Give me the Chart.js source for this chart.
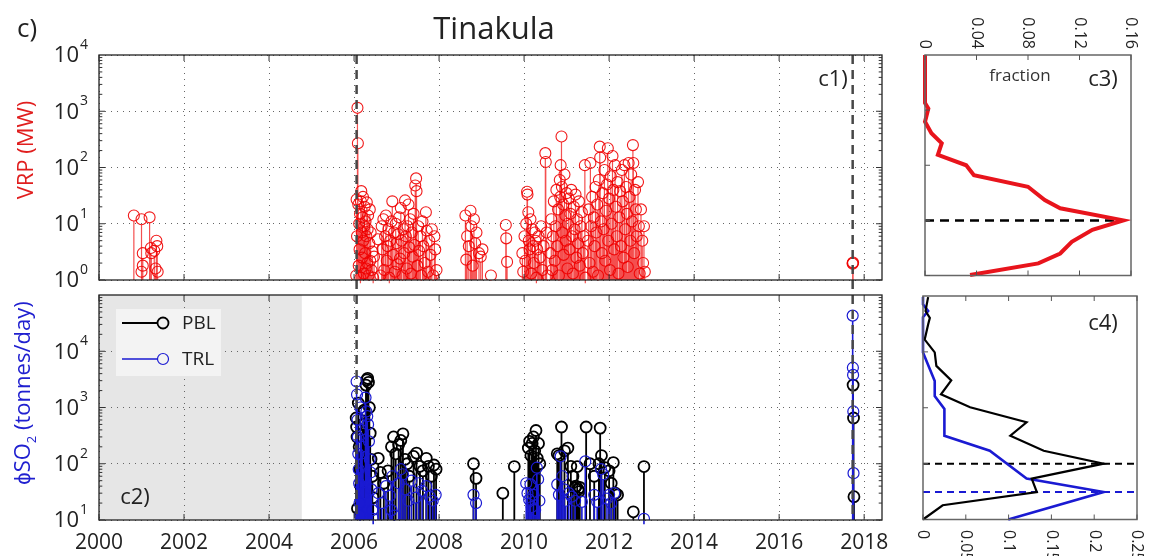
<!DOCTYPE html>
<html>
<head>
<meta charset="utf-8">
<title>Tinakula</title>
<script src="https://cdn.jsdelivr.net/npm/chart.js@4.4.0/dist/chart.umd.min.js"></script>
<style>
  body { margin: 0; background: #fff; width: 1151px; height: 556px; position: relative; overflow: hidden;
         font-family: "Open Sans", sans-serif; }
  canvas { position: absolute; }
  .lbl { position: absolute; white-space: nowrap; color: #222; transform: translate(-50%, -50%); line-height: 1; }
  .rot { transform: translate(-50%, -50%) rotate(-90deg); }
</style>
</head>
<body>
<canvas id="c1" style="left:0;top:0" width="900" height="295"></canvas>
<canvas id="c2" style="left:0;top:285px" width="900" height="271"></canvas>
<canvas id="c3" style="left:880px;top:0" width="271" height="290"></canvas>
<canvas id="c4" style="left:880px;top:285px" width="271" height="271"></canvas>

<div class="lbl" style="left:27px;top:27px;font-size:26px">c)</div>
<div class="lbl" style="left:494px;top:27px;font-size:31px">Tinakula</div>
<div class="lbl" style="left:833px;top:77px;font-size:22px">c1)</div>
<div class="lbl" style="left:135px;top:495px;font-size:22px">c2)</div>
<div class="lbl" style="left:1103px;top:77px;font-size:22px">c3)</div>
<div class="lbl" style="left:1103px;top:321px;font-size:22px">c4)</div>
<div class="lbl" style="left:1020px;top:74px;font-size:17px;color:#333">fraction</div>
<div class="lbl rot" style="left:24px;top:150px;font-size:22px;color:#e01e1e">VRP (MW)</div>
<div class="lbl rot" style="left:24px;top:393px;font-size:22px;color:#2020d0">&#981;SO<sub style="font-size:13px">2</sub> (tonnes/day)</div>

<script>
// ---- data ----
const xTickYears = [2000, 2002, 2004, 2006, 2008, 2010, 2012, 2014, 2016, 2018];
const vrpTicks = [1, 10, 100, 1000, 10000];
const so2Ticks = [10, 100, 1000, 10000];
const eventDates = [2006.06, 2017.73];   // dashed vertical lines
const omiStart = 2004.77;                 // grey = no SO2 record before this

const vrpDates = [
  2000.82, 2001.00, 2001.03, 2001.03, 2001.00, 2001.19, 2001.22, 2001.23, 2001.30, 2001.35, 2001.37, 2001.33, 2001.38,
  2006.05, 2006.06, 2006.08, 2006.09, 2006.07, 2006.10, 2006.11, 2006.12, 2006.13, 2006.14,
  2006.15, 2006.16, 2006.17, 2006.18, 2006.19, 2006.20, 2006.21, 2006.22, 2006.23, 2006.24,
  2006.25, 2006.26, 2006.27, 2006.28, 2006.29, 2006.30, 2006.31, 2006.32, 2006.33, 2006.34,
  2006.36, 2006.37, 2006.38, 2006.39, 2006.41, 2006.43, 2006.45, 2006.47, 2006.56,
  2006.62, 2006.65, 2006.67, 2006.69, 2006.71, 2006.73, 2006.75, 2006.77, 2006.79, 2006.81,
  2006.83, 2006.85, 2006.88, 2006.90, 2006.92, 2006.94, 2006.96, 2006.98, 2007.00, 2007.02,
  2007.04, 2007.06, 2007.08, 2007.10, 2007.12, 2007.14, 2007.16, 2007.18, 2007.20, 2007.22,
  2007.24, 2007.26, 2007.28, 2007.30, 2007.32, 2007.34, 2007.36, 2007.38, 2007.40, 2007.42,
  2007.44, 2007.46, 2007.47, 2007.49, 2007.51, 2007.53, 2007.56, 2007.58, 2007.61, 2007.63,
  2007.66, 2007.69, 2007.71, 2007.74, 2007.77, 2007.80, 2007.83, 2007.86, 2007.89, 2007.91,
  2007.94,
  2008.62, 2008.64, 2008.66, 2008.70, 2008.74, 2008.76, 2008.79, 2008.82, 2008.85, 2008.88,
  2008.94, 2008.98, 2009.02, 2009.22, 2009.57, 2009.58, 2009.60,
  2009.96, 2009.98, 2010.01, 2010.03, 2010.05, 2010.07, 2010.08, 2010.10, 2010.11, 2010.13,
  2010.15, 2010.17, 2010.19, 2010.21, 2010.23, 2010.25, 2010.27, 2010.29, 2010.31, 2010.34,
  2010.37, 2010.40, 2010.43, 2010.46, 2010.50, 2010.51, 2010.53, 2010.55,
  2010.62, 2010.64, 2010.66, 2010.68, 2010.70, 2010.72, 2010.74, 2010.76, 2010.78, 2010.80,
  2010.82, 2010.84, 2010.85, 2010.86, 2010.88, 2010.89, 2010.90, 2010.92, 2010.93, 2010.95,
  2010.97, 2010.98, 2011.00, 2011.02, 2011.03, 2011.05, 2011.07, 2011.09, 2011.11, 2011.13,
  2011.15, 2011.17, 2011.19, 2011.21, 2011.23, 2011.25, 2011.27, 2011.29, 2011.31, 2011.33,
  2011.36, 2011.38, 2011.40, 2011.43, 2011.44,
  2011.50, 2011.52, 2011.54, 2011.56, 2011.58, 2011.60, 2011.62, 2011.64, 2011.66, 2011.68,
  2011.70, 2011.72, 2011.74, 2011.76, 2011.78, 2011.79, 2011.81, 2011.83, 2011.85, 2011.87,
  2011.89, 2011.91, 2011.93, 2011.95, 2011.97, 2011.98, 2012.00, 2012.02, 2012.04, 2012.06,
  2012.08, 2012.10, 2012.12, 2012.14, 2012.16, 2012.18, 2012.20, 2012.22, 2012.24, 2012.26,
  2012.28, 2012.30, 2012.32, 2012.34, 2012.36, 2012.38, 2012.40, 2012.42, 2012.44, 2012.46,
  2012.48, 2012.50, 2012.52, 2012.54, 2012.56, 2012.57, 2012.59, 2012.61, 2012.63, 2012.65,
  2012.68, 2012.70, 2012.72, 2012.75, 2012.78, 2012.80, 2012.82, 2012.84,
  2017.73, 2017.73, 2017.74
];
const vrpValues = [
  14, 12, 3, 1.8, 1.4, 13, 3.7, 3, 3.3, 5, 4, 1.6, 1.4,
  1.2, 27, 1150, 270, 6, 22, 1.8, 10, 3.5, 15,
  1.1, 25, 38, 7, 2.5, 13, 30, 5, 1.3, 9,
  20, 3, 11, 1.6, 6, 24, 2, 8, 14, 1.2,
  4.5, 18, 2.2, 7, 1.5, 3.2, 1.1, 2.6, 5.3,
  1.2, 9, 3.5, 12, 1.5, 6, 14, 2.2, 4, 8,
  1.1, 5, 11, 25, 2.8, 7, 1.4, 10, 4.5, 1.9,
  6.5, 13, 2.4, 19, 5, 1.2, 8, 3, 26, 6,
  1.6, 9, 22, 3.8, 12, 1.3, 7, 2.6, 15, 4.2,
  48, 64, 38, 1.8, 9, 3.3, 6, 1.2, 11, 4,
  2, 16, 7.5, 1.4, 5, 2.8, 8, 1.2, 6, 3.5,
  1.5,
  14, 2.3, 6, 4, 17, 9, 1.8, 12, 4.5, 7,
  3, 2.6, 3.5, 1.2, 9.5, 5.5, 2.1,
  3, 1.4, 6, 2.2, 10, 37, 33, 16, 5, 3.5,
  12, 1.3, 8, 4, 2, 7, 5, 1.1, 3.5, 6,
  2.5, 9, 1.5, 4, 180, 125, 7, 1.2,
  3, 12, 1.5, 6, 25, 2.2, 9, 40, 4, 18,
  1.2, 60, 30, 110, 355, 45, 7, 22, 2.8, 75,
  14, 5, 35, 1.6, 10, 28, 3.5, 15, 40, 6,
  1.3, 20, 8, 33, 2.5, 12, 4.5, 25, 1.8, 9,
  16, 3, 6, 110, 1.1,
  5, 18, 2, 120, 9, 30, 1.4, 13, 4, 45,
  7, 22, 1.2, 60, 235, 150, 11, 3, 35, 8,
  90, 2.2, 17, 50, 220, 5, 28, 1.5, 70, 10,
  160, 40, 3.5, 110, 20, 6, 55, 1.3, 13, 38,
  4, 90, 25, 2.5, 110, 8, 45, 15, 1.7, 120,
  30, 5, 75, 11, 250, 120, 3, 40, 18, 6,
  55, 9, 1.3, 18, 5, 2, 9, 1.4,
  1.95, 2.0, 2.05
];

const pblDates = [
  2006.05, 2006.06, 2006.07, 2006.08, 2006.10, 2006.12, 2006.14, 2006.16, 2006.20, 2006.24,
  2006.28, 2006.30, 2006.32, 2006.34, 2006.36, 2006.38, 2006.40, 2006.43, 2006.45,
  2006.57, 2006.62, 2006.70, 2006.80, 2006.88, 2006.93, 2006.98, 2007.05, 2007.10, 2007.15,
  2007.20, 2007.25, 2007.30, 2007.40, 2007.47, 2007.55, 2007.62, 2007.70, 2007.75, 2007.82,
  2007.88, 2007.93,
  2008.81, 2008.87, 2009.50, 2009.77,
  2010.10, 2010.13, 2010.16, 2010.19, 2010.22, 2010.25, 2010.28, 2010.31, 2010.34, 2010.37,
  2010.78, 2010.82, 2010.88, 2010.95, 2011.03, 2011.10, 2011.15, 2011.20, 2011.22, 2011.25, 2011.27, 2011.29, 2011.31,
  2011.46, 2011.55, 2011.65, 2011.76, 2011.79, 2011.82, 2011.90, 2012.00, 2012.05, 2012.10, 2012.15, 2012.20,
  2012.57, 2012.82,
  2017.74, 2017.75, 2017.76
];
const pblValues = [
  650, 450, 300, 16, 1200, 200, 80, 40, 500, 900,
  2500, 3100, 3300, 2800, 1000, 350, 120, 60, 25,
  125, 70, 45, 75, 200, 300, 150, 220, 260, 340,
  120, 100, 60, 135, 155, 90, 75, 125, 90, 60,
  95, 80,
  100, 55, 30, 89,
  190, 250, 140, 230, 300, 170, 390, 125, 230, 100,
  150, 140, 450, 170, 190, 90, 60, 37, 40, 89, 35, 32, 38,
  450, 100, 60, 100, 430, 140, 85, 75, 45, 105, 30, 28,
  14, 89,
  2500, 650, 26
];

const trlDates = [
  2006.06, 2006.07, 2006.08, 2006.09, 2006.10, 2006.11, 2006.12, 2006.13, 2006.14, 2006.15,
  2006.17, 2006.19, 2006.21, 2006.23, 2006.25, 2006.27, 2006.29, 2006.31, 2006.33, 2006.35,
  2006.37, 2006.39, 2006.41, 2006.43, 2006.45,
  2006.57, 2006.65, 2006.75, 2006.85, 2006.88, 2006.90, 2006.95, 2007.05, 2007.10, 2007.15,
  2007.20, 2007.28, 2007.35, 2007.45, 2007.52, 2007.60, 2007.70, 2007.78, 2007.85, 2007.92,
  2008.81, 2008.87,
  2010.05, 2010.08, 2010.12, 2010.15, 2010.18, 2010.22, 2010.26, 2010.30, 2010.33, 2010.36,
  2010.78, 2010.82, 2010.86, 2010.90, 2010.94, 2010.98, 2011.05, 2011.12, 2011.20, 2011.36, 2011.44,
  2011.65, 2011.72, 2011.81, 2011.86, 2011.95, 2012.00, 2012.05, 2012.12,
  2012.82,
  2017.73, 2017.735, 2017.74, 2017.745, 2017.75
];
const trlValues = [
  2900, 1700, 600, 300, 150, 80, 45, 20, 12, 1000,
  400, 200, 100, 60, 30, 1500, 850, 700, 500, 250,
  120, 70, 35, 15, 10.5,
  30, 20, 40, 27, 15, 60, 12, 45, 80, 65,
  35, 22, 50, 25, 45, 33, 40, 26, 22, 28,
  28, 20,
  45, 30, 23, 43, 17, 28, 15, 85, 53, 22,
  43, 28, 135, 60, 35, 22, 30, 26, 22, 21, 110,
  28, 21, 80, 65, 24, 28, 20, 30,
  10.5,
  43000, 5100, 3800, 850, 68
];

// c3: distribution of VRP
const c3FracTicks = [0, 0.04, 0.08, 0.12, 0.16];
const c3FracLabels = ['0', '0.04', '0.08', '0.12', '0.16'];
const c3VrpBins = [1.02, 1.66, 2.51, 4.07, 6.76, 10, 16.6, 23.4, 40.7, 66, 100, 155, 251, 380, 617, 1070, 1350, 10000];
const c3Fraction = [0.035, 0.088, 0.105, 0.114, 0.130, 0.154, 0.105, 0.093, 0.080, 0.038, 0.032, 0.010, 0.013, 0.005, 0, 0.0026, 0, 0];
const c3Median = 10;

// c4: distribution of SO2 flux
const c4FracTicks = [0, 0.05, 0.1, 0.15, 0.2, 0.25];
const c4FracLabels = ['0', '0.05', '0.1', '0.15', '0.2', '0.25'];
const c4PblBins = [10, 18, 31, 54, 100, 170, 316, 550, 1020, 1740, 3090, 5620, 9770, 16600, 30900, 40700, 53700, 66000, 95500];
const c4PblFraction = [0, 0.023, 0.133, 0.127, 0.211, 0.141, 0.102, 0.121, 0.055, 0.021, 0.033, 0.0156, 0.0137, 0.002, 0.006, 0.008, 0.003, 0.004, 0.006];
const c4TrlBins = [10, 31, 54, 170, 316, 955, 1620, 3020, 9770, 41700, 53700, 70800, 95500];
const c4TrlFraction = [0.0996, 0.211, 0.121, 0.078, 0.025, 0.025, 0.0137, 0.0137, 0, 0, 0.006, 0, 0];
const c4MedianPbl = 100;
const c4MedianTrl = 31;

// ---- helpers / plugins ----
Chart.defaults.font.family = '"Open Sans", sans-serif';
Chart.defaults.color = '#222';

const RED = '#e8141c', BLUE = '#1a1ad2', GRID = '#666';
const pts = (xs, ys) => xs.map((x, i) => ({ x: x, y: ys[i] }));
const fixTicks = (vals) => (scale) => { scale.ticks = vals.map(v => ({ value: v })); };

// stems from the bottom of the axes up to each marker
const stemPlugin = {
  id: 'stems',
  beforeDatasetDraw(chart, args) {
    const ds = chart.data.datasets[args.index];
    if (!ds.stemColor) return;
    const ctx = chart.ctx, bottom = chart.chartArea.bottom, r = ds.pointRadius || 0;
    ctx.save();
    ctx.strokeStyle = ds.stemColor;
    ctx.lineWidth = ds.stemWidth || 1;
    ctx.beginPath();
    args.meta.data.forEach(p => { ctx.moveTo(p.x, bottom); ctx.lineTo(p.x, p.y + r); });
    ctx.stroke();
    ctx.restore();
  }
};

const framePlugin = {
  id: 'frame',
  afterDraw(chart, args, o) {
    const a = chart.chartArea, ctx = chart.ctx;
    ctx.save();
    ctx.strokeStyle = o.color; ctx.lineWidth = o.width;
    ctx.strokeRect(a.left, a.top, a.right - a.left, a.bottom - a.top);
    ctx.restore();
  }
};

// MATLAB style inward tick marks
const innerTicks = {
  id: 'innerTicks',
  afterDraw(chart, args, o) {
    const { ctx, chartArea: a, scales } = chart;
    const xs = scales.x, ys = scales.y;
    ctx.save();
    ctx.strokeStyle = o.color; ctx.lineWidth = 1;
    ctx.beginPath();
    xs.ticks.forEach(t => {
      const px = xs.getPixelForValue(t.value);
      ctx.moveTo(px, a.top); ctx.lineTo(px, a.top + o.len);
      ctx.moveTo(px, a.bottom); ctx.lineTo(px, a.bottom - o.len);
    });
    for (let d = ys.min; d < ys.max * 0.999; d *= 10) {
      for (let k = 1; k < 10; k++) {
        if (k > 1 && !o.minor) continue;
        const py = ys.getPixelForValue(d * k);
        const l = k === 1 ? o.len : o.len * 0.55;
        ctx.moveTo(a.left, py); ctx.lineTo(a.left + l, py);
        if (o.right) { ctx.moveTo(a.right, py); ctx.lineTo(a.right - l, py); }
      }
    }
    ctx.stroke();
    ctx.restore();
  }
};

// 10^n labels on log axes
const powLabels = {
  id: 'powLabels',
  afterDraw(chart, args, o) {
    const ctx = chart.ctx, ys = chart.scales.y, a = chart.chartArea;
    ctx.save();
    ctx.fillStyle = '#222'; ctx.textBaseline = 'middle'; ctx.textAlign = 'right';
    o.values.forEach(v => {
      const py = ys.getPixelForValue(v);
      const exp = String(Math.round(Math.log10(v)));
      ctx.font = '14px "Open Sans"';
      const ew = ctx.measureText(exp).width;
      const right = a.left - 11;
      ctx.fillText(exp, right, py - 10);
      ctx.font = '22px "Open Sans"';
      ctx.fillText('10', right - ew - 1, py + 1);
    });
    ctx.restore();
  }
};

// x labels turned 90 degrees clockwise (c3 / c4)
const rotLabels = {
  id: 'rotLabels',
  afterDraw(chart, args, o) {
    const ctx = chart.ctx, xs = chart.scales.x;
    ctx.save();
    ctx.font = o.font; ctx.fillStyle = '#222';
    ctx.textBaseline = 'middle'; ctx.textAlign = o.align;
    o.values.forEach((v, i) => {
      ctx.save();
      ctx.translate(xs.getPixelForValue(v), o.y);
      ctx.rotate(Math.PI / 2);
      ctx.fillText(o.labels[i], 0, 0);
      ctx.restore();
    });
    ctx.restore();
  }
};

const eventLines = {
  id: 'eventLines',
  afterDatasetsDraw(chart, args, o) {
    const ctx = chart.ctx, xs = chart.scales.x, a = chart.chartArea;
    ctx.save();
    ctx.strokeStyle = '#474747'; ctx.lineWidth = 2.5; ctx.setLineDash([9, 6]);
    o.dates.forEach(d => {
      const px = xs.getPixelForValue(d);
      ctx.beginPath(); ctx.moveTo(px, a.top); ctx.lineTo(px, o.toCanvasBottom ? chart.height : a.bottom); ctx.stroke();
    });
    ctx.restore();
  }
};

const shadePlugin = {
  id: 'shade',
  beforeDraw(chart, args, o) {
    const ctx = chart.ctx, xs = chart.scales.x, a = chart.chartArea;
    ctx.save();
    ctx.fillStyle = '#e6e6e6';
    ctx.fillRect(a.left, a.top, xs.getPixelForValue(o.until) - a.left, a.bottom - a.top);
    ctx.restore();
  }
};

const boxLegend = {
  id: 'boxLegend',
  afterDatasetsDraw(chart, args, o) {
    const ctx = chart.ctx;
    ctx.save();
    ctx.fillStyle = '#f3f3f3';
    ctx.fillRect(o.x, o.y, o.w, o.h);
    o.order.forEach((idx, i) => {
      const d = chart.data.datasets[idx];
      const y = o.y + 14 + i * 36;
      ctx.strokeStyle = d.borderColor; ctx.lineWidth = d.stemWidth;
      ctx.beginPath(); ctx.moveTo(o.x + 6, y); ctx.lineTo(o.x + 41, y); ctx.stroke();
      ctx.lineWidth = d.pointBorderWidth;
      ctx.beginPath(); ctx.arc(o.x + 47, y, 5.5, 0, Math.PI * 2); ctx.stroke();
      ctx.fillStyle = '#222'; ctx.font = '19px "Open Sans"';
      ctx.textBaseline = 'middle'; ctx.textAlign = 'left';
      ctx.fillText(d.label, o.x + 66, y + 1);
    });
    ctx.restore();
  }
};

const timeAxis = (showLabels, h) => ({
  type: 'linear', min: 2000, max: 2018.42,
  afterBuildTicks: fixTicks(xTickYears),
  afterFit: s => { s.height = h; },
  grid: { color: GRID, lineWidth: 1, drawTicks: false },
  border: { display: false, dash: [1, 5] },
  ticks: { display: showLabels, autoSkip: false, maxRotation: 0, padding: 10,
           font: { size: 21 }, color: '#222', callback: v => String(v) }
});
const logAxis = (min, max, ticks, w, grid) => ({
  type: 'logarithmic', min: min, max: max,
  afterBuildTicks: fixTicks(ticks),
  afterFit: s => { s.width = w; },
  grid: { display: grid, color: GRID, lineWidth: 1, drawTicks: false },
  border: { display: false, dash: [1, 5] },
  ticks: { display: false }
});
const base = { responsive: false, animation: false, events: [] };

// ---- c1: VRP time series ----
new Chart(document.getElementById('c1'), {
  type: 'scatter',
  data: { datasets: [{
    data: pts(vrpDates, vrpValues),
    borderColor: 'rgba(240,0,0,0.9)', pointBackgroundColor: 'rgba(0,0,0,0)',
    pointBorderWidth: 1.1, pointRadius: 5.5,
    stemColor: 'rgba(240,20,20,0.75)', stemWidth: 1.2
  }] },
  options: Object.assign({}, base, {
    layout: { padding: { top: 55, right: 18, bottom: 15, left: 0 } },
    scales: { x: timeAxis(false, 0), y: logAxis(1, 10000, vrpTicks, 99, true) },
    plugins: { legend: { display: false }, tooltip: { enabled: false },
      frame: { color: '#222', width: 1.3 },
      innerTicks: { color: '#333', len: 6, minor: true, right: true },
      powLabels: { values: vrpTicks },
      eventLines: { dates: eventDates, toCanvasBottom: true } }
  }),
  plugins: [stemPlugin, framePlugin, innerTicks, powLabels, eventLines]
});

// ---- c2: SO2 time series ----
new Chart(document.getElementById('c2'), {
  type: 'scatter',
  data: { datasets: [
    { label: 'PBL', order: 2, data: pts(pblDates, pblValues),
      borderColor: '#000', pointBackgroundColor: 'rgba(0,0,0,0)',
      pointBorderWidth: 1.8, pointRadius: 5.5, stemColor: '#000', stemWidth: 1.8 },
    { label: 'TRL', order: 1, data: pts(trlDates, trlValues),
      borderColor: BLUE, pointBackgroundColor: 'rgba(0,0,0,0)',
      pointBorderWidth: 1.2, pointRadius: 5.5, stemColor: BLUE, stemWidth: 1.6 }
  ] },
  options: Object.assign({}, base, {
    layout: { padding: { top: 10, right: 18, bottom: 0, left: 0 } },
    scales: { x: timeAxis(true, 36), y: logAxis(10, 100000, so2Ticks, 99, true) },
    plugins: { legend: { display: false }, tooltip: { enabled: false },
      frame: { color: '#222', width: 1.3 },
      innerTicks: { color: '#333', len: 6, minor: true, right: true },
      powLabels: { values: so2Ticks },
      eventLines: { dates: eventDates, toCanvasBottom: false },
      shade: { until: omiStart },
      boxLegend: { x: 116, y: 24, w: 105, h: 67, order: [0, 1] } }
  }),
  plugins: [shadePlugin, eventLines, stemPlugin, framePlugin, innerTicks, powLabels, boxLegend]
});

// ---- c3: VRP distribution ----
new Chart(document.getElementById('c3'), {
  type: 'scatter',
  data: { datasets: [
    { data: pts(c3Fraction, c3VrpBins), showLine: true, borderColor: RED, borderWidth: 4,
      pointRadius: 0, clip: false },
    { data: [{ x: 0, y: c3Median }, { x: Math.max(...c3Fraction), y: c3Median }], showLine: true,
      borderColor: '#000', borderWidth: 2.5, borderDash: [9, 6], pointRadius: 0, clip: false }
  ] },
  options: Object.assign({}, base, {
    layout: { padding: { top: 55, right: 20, bottom: 14.5, left: 45 } },
    scales: {
      x: { type: 'linear', position: 'top', min: 0, max: 0.16, afterBuildTicks: fixTicks(c3FracTicks),
           afterFit: s => { s.height = 0; }, grid: { display: false }, border: { display: false }, ticks: { display: false } },
      y: logAxis(1, 10000, vrpTicks, 0, false)
    },
    plugins: { legend: { display: false }, tooltip: { enabled: false },
      frame: { color: '#666', width: 1.5 },
      innerTicks: { color: '#555', len: 5, minor: false, right: false },
      rotLabels: { values: c3FracTicks, labels: c3FracLabels, y: 49, align: 'right', font: '16px "Open Sans"' } }
  }),
  plugins: [framePlugin, innerTicks, rotLabels]
});

// ---- c4: SO2 distribution ----
new Chart(document.getElementById('c4'), {
  type: 'scatter',
  data: { datasets: [
    { data: pts(c4PblFraction, c4PblBins), showLine: true, borderColor: '#000', borderWidth: 2.2,
      pointRadius: 0, clip: false },
    { data: pts(c4TrlFraction, c4TrlBins), showLine: true, borderColor: BLUE, borderWidth: 2.6,
      pointRadius: 0, clip: false },
    { data: [{ x: 0, y: c4MedianPbl }, { x: 0.25, y: c4MedianPbl }], showLine: true,
      borderColor: '#000', borderWidth: 2, borderDash: [7, 5], pointRadius: 0, clip: false },
    { data: [{ x: 0, y: c4MedianTrl }, { x: 0.25, y: c4MedianTrl }], showLine: true,
      borderColor: BLUE, borderWidth: 2, borderDash: [7, 5], pointRadius: 0, clip: false }
  ] },
  options: Object.assign({}, base, {
    layout: { padding: { top: 11, right: 14, bottom: 0, left: 43 } },
    scales: {
      x: { type: 'linear', min: 0, max: 0.25, afterBuildTicks: fixTicks(c4FracTicks),
           afterFit: s => { s.height = 36.5; }, grid: { display: false }, border: { display: false }, ticks: { display: false } },
      y: logAxis(10, 100000, so2Ticks, 0, false)
    },
    plugins: { legend: { display: false }, tooltip: { enabled: false },
      frame: { color: '#666', width: 1.5 },
      innerTicks: { color: '#555', len: 5, minor: false, right: false },
      rotLabels: { values: c4FracTicks, labels: c4FracLabels, y: 245, align: 'left', font: '16px "Open Sans"' } }
  }),
  plugins: [framePlugin, innerTicks, rotLabels]
});
</script>
</body>
</html>
